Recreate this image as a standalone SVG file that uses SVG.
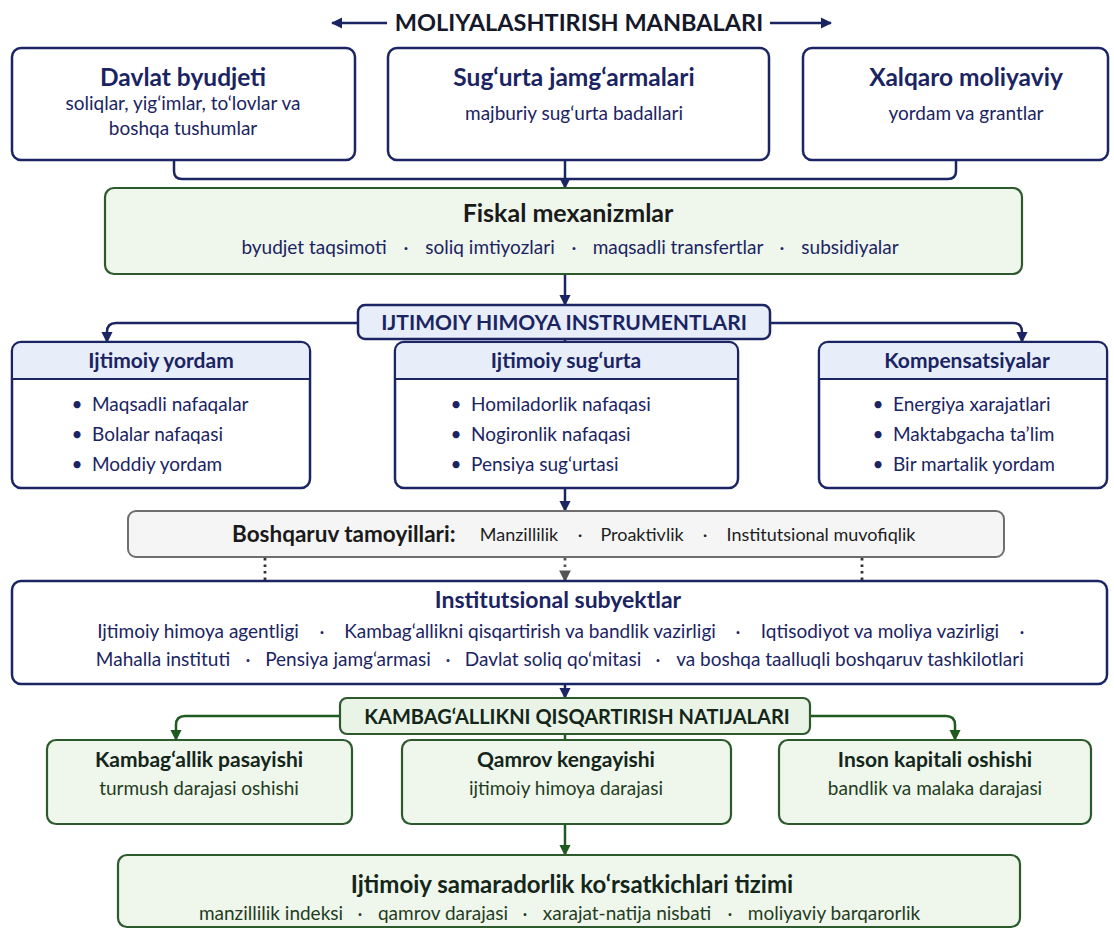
<svg xmlns="http://www.w3.org/2000/svg" width="1114" height="929" viewBox="0 0 1114 929">
<defs>
<style>
text{font-family:Lato,"Open Sans","Liberation Sans",sans-serif;text-anchor:middle}
.navybox{fill:#ffffff;stroke:#1c2563;stroke-width:2.5}
.greenbox{fill:#eff6ec;stroke:#2d5a2d;stroke-width:2.2}
.graybox{fill:#f5f5f5;stroke:#6e6e6e;stroke-width:2}
.band{fill:#e7eef9}
.sep{stroke:#1c2563;stroke-width:1.8}
.lblblue{fill:#e7eef9;stroke:#1c2563;stroke-width:2.5}
.lblgreen{fill:#eaf4e6;stroke:#2d5a2d;stroke-width:2.2}
.cn{fill:none;stroke:#1c2563;stroke-width:2.5}
.cg{fill:none;stroke:#1f5a1f;stroke-width:2.5}
.cd{fill:none;stroke:#333;stroke-width:2.8;stroke-dasharray:2.5 4}
.h1{font-size:24.5px;font-weight:700;fill:#1b2462}
.s1{font-size:19px;fill:#1b2462}
.hb{font-size:25px;font-weight:700;fill:#1a1a1a}
.sub{font-size:19px;fill:#1b2462}
.lab{font-size:21px;font-weight:700;fill:#1b2462}
.hd{font-size:21px;font-weight:700;fill:#1b2462}
.it{font-size:19px;fill:#1b2462;text-anchor:start}
.bul{font-size:19px;fill:#1b2462}
.gh{font-size:21px;font-weight:700;fill:#14261a}
.gs{font-size:19px;fill:#1f3d22}
.gl{font-size:20px;font-weight:700;fill:#14261a}
.bk{font-size:18px;fill:#1e1e1e}
</style>
<marker id="an" viewBox="0 0 10 10" refX="9" refY="5" markerWidth="4.6" markerHeight="4.6" orient="auto"><path d="M0,0 L10,5 L0,10 z" fill="#1c2563"/></marker>
<marker id="ag" viewBox="0 0 10 10" refX="9" refY="5" markerWidth="4.6" markerHeight="4.6" orient="auto"><path d="M0,0 L10,5 L0,10 z" fill="#1f5a1f"/></marker>
<marker id="ad" viewBox="0 0 10 10" refX="9" refY="5" markerWidth="4.2" markerHeight="4.2" orient="auto"><path d="M0,0 L10,5 L0,10 z" fill="#555"/></marker>
</defs>
<rect width="1114" height="929" fill="#ffffff"/>

<g id="title">
<text x="579" y="31" style="font-size:23.5px;font-weight:700;fill:#15182a">MOLIYALASHTIRISH MANBALARI</text>
</g>

<g id="connectors">
<path class="cn" d="M387,23 H332" marker-end="url(#an)"/>
<path class="cn" d="M770,23 H831" marker-end="url(#an)"/>
<path class="cn" d="M174,160 V171 Q174,179 182,179 H565"/>
<path class="cn" d="M956,160 V171 Q956,179 948,179 H565"/>
<path class="cn" d="M565,160 V188" marker-end="url(#an)"/>
<path class="cn" d="M565,274 V305" marker-end="url(#an)"/>
<path class="cn" d="M358,323 H116 Q107,323 107,332 V342" marker-end="url(#an)"/>
<path class="cn" d="M770,323 H1013 Q1022,323 1022,332 V342" marker-end="url(#an)"/>
<path class="cn" d="M565,339 V342"/>
<path class="cn" d="M565,488 V511" marker-end="url(#an)"/>
<path class="cd" d="M265,558 V581"/>
<path class="cd" d="M862,558 V581"/>
<path fill="none" stroke="#555" stroke-width="2.8" stroke-dasharray="2.5 4" d="M565,558 V581" marker-end="url(#ad)"/>
<path class="cn" d="M565,684 V698" marker-end="url(#an)"/>
<path class="cg" d="M340,716 H185 Q176,716 176,725 V740" marker-end="url(#ag)"/>
<path class="cg" d="M810,716 H946 Q955,716 955,725 V740" marker-end="url(#ag)"/>
<path class="cg" d="M565,734 V740"/>
<path class="cg" d="M565,824 V855" marker-end="url(#ag)"/>
</g>

<g id="davlat">
<rect class="navybox" x="12" y="48" width="343" height="112" rx="9"/>
<text class="h1" x="183" y="86">Davlat byudjeti</text>
<text class="s1" x="183" y="110">soliqlar, yig‘imlar, to‘lovlar va</text>
<text class="s1" x="183" y="135">boshqa tushumlar</text>
</g>
<g id="sugurta-fund">
<rect class="navybox" x="388" y="48" width="381" height="112" rx="9"/>
<text class="h1" x="574" y="86">Sug‘urta jamg‘armalari</text>
<text class="s1" x="574" y="120">majburiy sug‘urta badallari</text>
</g>
<g id="xalqaro">
<rect class="navybox" x="803" y="48" width="305" height="112" rx="9"/>
<text class="h1" x="966" y="86">Xalqaro moliyaviy</text>
<text class="s1" x="966" y="120">yordam va grantlar</text>
</g>

<g id="fiskal">
<rect class="greenbox" x="105" y="188" width="917" height="86" rx="9"/>
<text class="hb" x="568" y="222">Fiskal mexanizmlar</text>
<text class="sub" x="314" y="254">byudjet taqsimoti</text>
<text class="sub" x="406" y="254">·</text>
<text class="sub" x="490" y="254">soliq imtiyozlari</text>
<text class="sub" x="574" y="254">·</text>
<text class="sub" x="678" y="254">maqsadli transfertlar</text>
<text class="sub" x="782" y="254">·</text>
<text class="sub" x="850" y="254">subsidiyalar</text>
</g>

<g id="instrumentlar">
<rect class="lblblue" x="358" y="305" width="412" height="34" rx="7"/>
<text class="lab" x="564" y="330">IJTIMOIY HIMOYA INSTRUMENTLARI</text>
</g>

<g id="ijtimoiy-yordam">
<rect class="navybox" x="12" y="342" width="298" height="146" rx="9"/>
<path class="band" d="M21,343.3 H301 Q308.7,343.3 308.7,351 V379 H13.3 V351 Q13.3,343.3 21,343.3 z"/>
<line class="sep" x1="13" y1="379" x2="309" y2="379"/>
<text class="hd" x="161" y="368">Ijtimoiy yordam</text>
<text class="bul" x="77" y="411">•</text><text class="it" x="92" y="411">Maqsadli nafaqalar</text>
<text class="bul" x="77" y="441">•</text><text class="it" x="92" y="441">Bolalar nafaqasi</text>
<text class="bul" x="77" y="471">•</text><text class="it" x="92" y="471">Moddiy yordam</text>
</g>

<g id="ijtimoiy-sugurta">
<rect class="navybox" x="395" y="342" width="343" height="146" rx="9"/>
<path class="band" d="M404,343.3 H729 Q736.7,343.3 736.7,351 V379 H396.3 V351 Q396.3,343.3 404,343.3 z"/>
<line class="sep" x1="396" y1="379" x2="737" y2="379"/>
<text class="hd" x="566" y="368">Ijtimoiy sug‘urta</text>
<text class="bul" x="456" y="411">•</text><text class="it" x="471" y="411">Homiladorlik nafaqasi</text>
<text class="bul" x="456" y="441">•</text><text class="it" x="471" y="441">Nogironlik nafaqasi</text>
<text class="bul" x="456" y="471">•</text><text class="it" x="471" y="471">Pensiya sug‘urtasi</text>
</g>

<g id="kompensatsiyalar">
<rect class="navybox" x="819" y="342" width="288" height="146" rx="9"/>
<path class="band" d="M828,343.3 H1098 Q1105.7,343.3 1105.7,351 V379 H820.3 V351 Q820.3,343.3 828,343.3 z"/>
<line class="sep" x1="820" y1="379" x2="1106" y2="379"/>
<text class="hd" x="967" y="368">Kompensatsiyalar</text>
<text class="bul" x="878" y="411">•</text><text class="it" x="893" y="411">Energiya xarajatlari</text>
<text class="bul" x="878" y="441">•</text><text class="it" x="893" y="441">Maktabgacha ta’lim</text>
<text class="bul" x="878" y="471">•</text><text class="it" x="893" y="471">Bir martalik yordam</text>
</g>

<g id="boshqaruv">
<rect class="graybox" x="128" y="511" width="876" height="46" rx="8"/>
<text x="232" y="542" style="text-anchor:start;font-size:22.5px;font-weight:700;fill:#1a1a1a">Boshqaruv tamoyillari:</text>
<text class="bk" x="519" y="541">Manzillilik</text>
<text class="bk" x="580" y="541">·</text>
<text class="bk" x="642" y="541">Proaktivlik</text>
<text class="bk" x="705" y="541">·</text>
<text class="bk" x="821" y="541">Institutsional muvofiqlik</text>
</g>

<g id="institutsional">
<rect class="navybox" x="12" y="581" width="1095" height="103" rx="9"/>
<text class="h1" x="558" y="608" style="font-size:23px">Institutsional subyektlar</text>
<text class="sub" x="198" y="638">Ijtimoiy himoya agentligi</text>
<text class="sub" x="322" y="638">·</text>
<text class="sub" x="530" y="638">Kambag‘allikni qisqartirish va bandlik vazirligi</text>
<text class="sub" x="738" y="638">·</text>
<text class="sub" x="880" y="638">Iqtisodiyot va moliya vazirligi</text>
<text class="sub" x="1022" y="638">·</text>
<text class="sub" x="163" y="666">Mahalla instituti</text>
<text class="sub" x="248" y="666">·</text>
<text class="sub" x="348" y="666">Pensiya jamg‘armasi</text>
<text class="sub" x="448" y="666">·</text>
<text class="sub" x="553" y="666">Davlat soliq qo‘mitasi</text>
<text class="sub" x="658" y="666">·</text>
<text class="sub" x="850" y="666">va boshqa taalluqli boshqaruv tashkilotlari</text>
</g>

<g id="natijalar">
<rect class="lblgreen" x="340" y="698" width="470" height="36" rx="7"/>
<text class="gl" x="577" y="724">KAMBAG‘ALLIKNI QISQARTIRISH NATIJALARI</text>
</g>

<g id="kambagallik">
<rect class="greenbox" x="47" y="740" width="305" height="84" rx="9"/>
<text class="gh" x="199" y="767">Kambag‘allik pasayishi</text>
<text class="gs" x="199" y="795">turmush darajasi oshishi</text>
</g>
<g id="qamrov">
<rect class="greenbox" x="402" y="740" width="329" height="84" rx="9"/>
<text class="gh" x="566" y="767">Qamrov kengayishi</text>
<text class="gs" x="566" y="795">ijtimoiy himoya darajasi</text>
</g>
<g id="inson">
<rect class="greenbox" x="779" y="740" width="312" height="84" rx="9"/>
<text class="gh" x="935" y="767">Inson kapitali oshishi</text>
<text class="gs" x="935" y="795">bandlik va malaka darajasi</text>
</g>

<g id="samaradorlik">
<rect class="greenbox" x="118" y="855" width="902" height="72" rx="9"/>
<text x="572" y="893" style="font-size:24px;font-weight:700;fill:#14261a">Ijtimoiy samaradorlik ko‘rsatkichlari tizimi</text>
<text class="gs" x="271" y="920">manzillilik indeksi</text>
<text class="gs" x="360" y="920">·</text>
<text class="gs" x="443" y="920">qamrov darajasi</text>
<text class="gs" x="525" y="920">·</text>
<text class="gs" x="627" y="920">xarajat-natija nisbati</text>
<text class="gs" x="730" y="920">·</text>
<text class="gs" x="834" y="920">moliyaviy barqarorlik</text>
</g>
</svg>
